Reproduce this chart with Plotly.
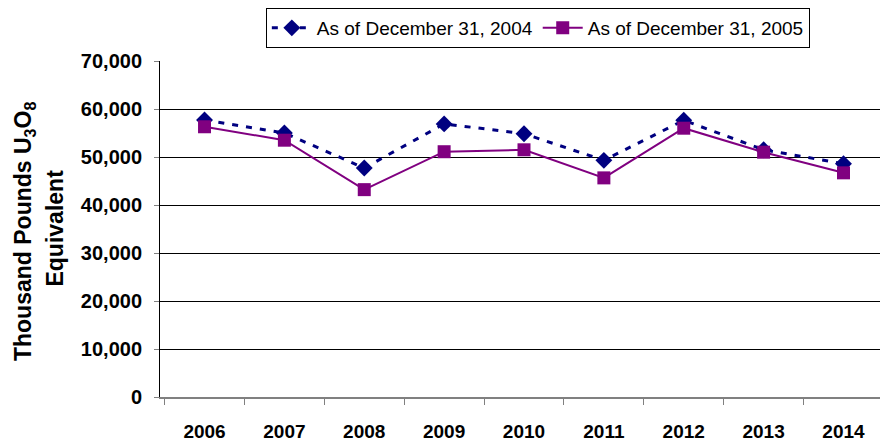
import plotly.graph_objects as go

years = ["2006", "2007", "2008", "2009", "2010", "2011", "2012", "2013", "2014"]
as_of_2004 = [57700, 55000, 47700, 56900, 54850, 49300, 57650, 51500, 48600]
as_of_2005 = [56300, 53500, 43200, 51100, 51500, 45650, 56000, 51000, 46700]
y_ticks = [0, 10000, 20000, 30000, 40000, 50000, 60000, 70000]
y_title_lines = ["Thousand Pounds U<sub>3</sub>O<sub>8</sub>", "Equivalent"]

font = "Liberation Sans, Arial, sans-serif"

fig = go.Figure()
fig.add_trace(go.Scatter(
    x=years, y=as_of_2004, name="As of December 31, 2004", mode="lines+markers",
    line=dict(color="#000080", width=3, dash="6px,8px"),
    marker=dict(symbol="diamond", size=13, color="#000080"),
))
fig.add_trace(go.Scatter(
    x=years, y=as_of_2005, name="As of December 31, 2005", mode="lines+markers",
    line=dict(color="#800080", width=2),
    marker=dict(symbol="square", size=13, color="#800080"),
))

title_pos = [(-0.1868, 0.491), (-0.1442, 0.5015)]
for txt, (px, py) in zip(y_title_lines, title_pos):
    fig.add_annotation(
        text=txt, xref="paper", yref="paper", x=px, y=py,
        xanchor="center", yanchor="middle", textangle=-90, showarrow=False,
        font=dict(size=23, family=font, weight="bold", color="black"),
    )

fig.update_layout(
    width=880, height=437,
    margin=dict(l=152, r=0, t=53, b=48, autoexpand=False),
    paper_bgcolor="white", plot_bgcolor="white",
    font=dict(family=font, color="black"),
    showlegend=True,
    legend=dict(
        orientation="h", x=0.519, xanchor="center", y=1.0, yanchor="top",
        yref="container", bordercolor="black", borderwidth=1,
        font=dict(size=19, family=font), itemwidth=40,
    ),
    xaxis=dict(
        type="category", showgrid=False, showline=True, linecolor="#808080", linewidth=1.5,
        ticks="outside", tickson="boundaries", ticklen=6, tickcolor="#808080",
        ticklabelstandoff=16, automargin=False,
        tickfont=dict(size=19, family=font, weight="bold"),
    ),
    yaxis=dict(
        range=[0, 70000], tickvals=y_ticks, tickformat=",d",
        showgrid=True, gridcolor="black", gridwidth=1, zeroline=False,
        showline=True, linecolor="black", linewidth=1,
        ticks="outside", ticklen=5, tickcolor="#808080",
        ticklabelstandoff=8, automargin=False,
        tickfont=dict(size=20, family=font, weight="bold"),
    ),
)

fig.write_html("out.html")
